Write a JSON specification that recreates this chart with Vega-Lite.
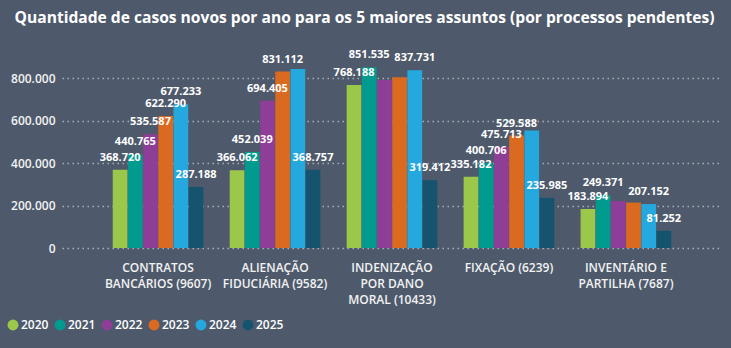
{
  "$schema": "https://vega.github.io/schema/vega-lite/v6.json",
  "width": 660,
  "height": 191,
  "autosize": "none",
  "padding": {"left": 62, "top": 57, "right": 9, "bottom": 100},
  "background": "#4E5A6C",
  "title": {
    "text": "Quantidade de casos novos por ano para os 5 maiores assuntos (por processos pendentes)",
    "anchor": "middle",
    "frame": "bounds",
    "font": "Open Sans",
    "fontSize": 15.6,
    "fontWeight": "bold",
    "color": "#FFFFFF",
    "offset": 23
  },
  "config": {
    "locale": {"number": {"decimal": ",", "thousands": ".", "grouping": [3], "currency": ["R$", ""]}},
    "view": {"stroke": null},
    "font": "Open Sans"
  },
  "data": {
    "values": [
      {"assunto": "CONTRATOS BANCÁRIOS (9607)", "ano": "2020", "casos": 368720},
      {"assunto": "CONTRATOS BANCÁRIOS (9607)", "ano": "2021", "casos": 440765},
      {"assunto": "CONTRATOS BANCÁRIOS (9607)", "ano": "2022", "casos": 535587},
      {"assunto": "CONTRATOS BANCÁRIOS (9607)", "ano": "2023", "casos": 622290},
      {"assunto": "CONTRATOS BANCÁRIOS (9607)", "ano": "2024", "casos": 677233},
      {"assunto": "CONTRATOS BANCÁRIOS (9607)", "ano": "2025", "casos": 287188},
      {"assunto": "ALIENAÇÃO FIDUCIÁRIA (9582)", "ano": "2020", "casos": 366062},
      {"assunto": "ALIENAÇÃO FIDUCIÁRIA (9582)", "ano": "2021", "casos": 452039},
      {"assunto": "ALIENAÇÃO FIDUCIÁRIA (9582)", "ano": "2022", "casos": 694405},
      {"assunto": "ALIENAÇÃO FIDUCIÁRIA (9582)", "ano": "2023", "casos": 831112},
      {"assunto": "ALIENAÇÃO FIDUCIÁRIA (9582)", "ano": "2024", "casos": 844000},
      {"assunto": "ALIENAÇÃO FIDUCIÁRIA (9582)", "ano": "2025", "casos": 368757},
      {"assunto": "INDENIZAÇÃO POR DANO MORAL (10433)", "ano": "2020", "casos": 768188},
      {"assunto": "INDENIZAÇÃO POR DANO MORAL (10433)", "ano": "2021", "casos": 851535},
      {"assunto": "INDENIZAÇÃO POR DANO MORAL (10433)", "ano": "2022", "casos": 792000},
      {"assunto": "INDENIZAÇÃO POR DANO MORAL (10433)", "ano": "2023", "casos": 805000},
      {"assunto": "INDENIZAÇÃO POR DANO MORAL (10433)", "ano": "2024", "casos": 837731},
      {"assunto": "INDENIZAÇÃO POR DANO MORAL (10433)", "ano": "2025", "casos": 319412},
      {"assunto": "FIXAÇÃO (6239)", "ano": "2020", "casos": 335182},
      {"assunto": "FIXAÇÃO (6239)", "ano": "2021", "casos": 400706},
      {"assunto": "FIXAÇÃO (6239)", "ano": "2022", "casos": 475713},
      {"assunto": "FIXAÇÃO (6239)", "ano": "2023", "casos": 529588},
      {"assunto": "FIXAÇÃO (6239)", "ano": "2024", "casos": 554000},
      {"assunto": "FIXAÇÃO (6239)", "ano": "2025", "casos": 235985},
      {"assunto": "INVENTÁRIO E PARTILHA (7687)", "ano": "2020", "casos": 183894},
      {"assunto": "INVENTÁRIO E PARTILHA (7687)", "ano": "2021", "casos": 249371},
      {"assunto": "INVENTÁRIO E PARTILHA (7687)", "ano": "2022", "casos": 221000},
      {"assunto": "INVENTÁRIO E PARTILHA (7687)", "ano": "2023", "casos": 214000},
      {"assunto": "INVENTÁRIO E PARTILHA (7687)", "ano": "2024", "casos": 207152},
      {"assunto": "INVENTÁRIO E PARTILHA (7687)", "ano": "2025", "casos": 81252}
    ]
  },
  "encoding": {
    "x": {
      "field": "assunto",
      "type": "nominal",
      "sort": null,
      "scale": {"paddingInner": 0.225, "paddingOuter": 0.434},
      "axis": {
        "title": null,
        "labelAngle": 0,
        "domain": false,
        "ticks": false,
        "labelPadding": 14,
        "labelFont": "Open Sans",
        "labelFontSize": 12,
        "labelFontWeight": 600,
        "labelColor": "#F2F2F2",
        "labelLineHeight": 16,
        "labelBaseline": "top",
        "labelExpr": "datum.value == 'CONTRATOS BANCÁRIOS (9607)' ? ['CONTRATOS', 'BANCÁRIOS (9607)'] : datum.value == 'ALIENAÇÃO FIDUCIÁRIA (9582)' ? ['ALIENAÇÃO', 'FIDUCIÁRIA (9582)'] : datum.value == 'INDENIZAÇÃO POR DANO MORAL (10433)' ? ['INDENIZAÇÃO', 'POR DANO', 'MORAL (10433)'] : datum.value == 'INVENTÁRIO E PARTILHA (7687)' ? ['INVENTÁRIO E', 'PARTILHA (7687)'] : datum.value"
      }
    },
    "xOffset": {"field": "ano", "type": "nominal", "scale": {"paddingInner": 0.03}},
    "y": {
      "field": "casos",
      "type": "quantitative",
      "scale": {"domain": [0, 900000], "nice": false},
      "axis": {
        "title": null,
        "values": [0, 200000, 400000, 600000, 800000],
        "format": ",d",
        "domain": false,
        "ticks": false,
        "labelPadding": 7,
        "labelFont": "Open Sans",
        "labelFontSize": 12,
        "labelFontWeight": 600,
        "labelColor": "#F2F2F2",
        "grid": true,
        "gridColor": "#A7AEB8",
        "gridDash": [1.5, 3.5],
        "gridWidth": 1.5
      }
    }
  },
  "layer": [
    {
      "mark": {"type": "bar"},
      "encoding": {
        "color": {
          "field": "ano",
          "type": "nominal",
          "scale": {
            "domain": ["2020", "2021", "2022", "2023", "2024", "2025"],
            "range": ["#9BC84B", "#019A8E", "#8E3E97", "#DA6A1F", "#24A8DE", "#15536E"]
          },
          "legend": {
            "title": null,
            "orient": "none",
            "direction": "horizontal",
            "legendX": -55,
            "legendY": 262,
            "symbolType": "circle",
            "symbolSize": 120,
            "symbolStrokeWidth": 0,
            "symbolOpacity": 1,
            "labelFont": "Open Sans",
            "labelFontSize": 12,
            "labelFontWeight": 600,
            "labelColor": "#FFFFFF",
            "labelOffset": 2,
            "columnPadding": 5
          }
        }
      }
    },
    {
      "transform": [
        {"filter": "!((datum.assunto == 'ALIENAÇÃO FIDUCIÁRIA (9582)' && datum.ano == '2024') || (datum.assunto == 'INDENIZAÇÃO POR DANO MORAL (10433)' && (datum.ano == '2022' || datum.ano == '2023')) || (datum.assunto == 'FIXAÇÃO (6239)' && datum.ano == '2024') || (datum.assunto == 'INVENTÁRIO E PARTILHA (7687)' && (datum.ano == '2022' || datum.ano == '2023')))"}
      ],
      "mark": {"type": "text", "baseline": "alphabetic", "dy": -9, "font": "Open Sans", "fontSize": 11, "fontWeight": "bold", "color": "#FFFFFF"},
      "encoding": {
        "text": {"field": "casos", "type": "quantitative", "format": ",d"}
      }
    }
  ]
}
